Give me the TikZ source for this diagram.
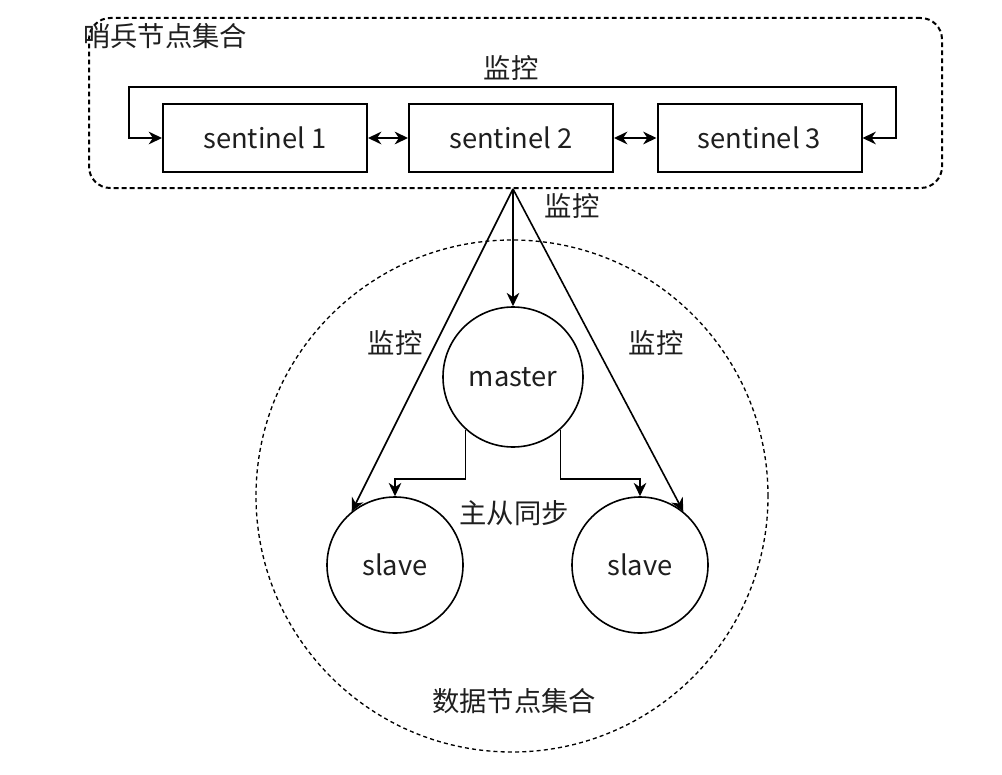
\documentclass[tikz,border=0pt]{standalone}
\usepackage{fontspec}
\setmainfont{Noto Sans CJK SC}
\usetikzlibrary{arrows.meta,calc}
\begin{document}
\begin{tikzpicture}[x=0.75pt,y=-0.75pt,
  every node/.style={font=\fontsize{20.5pt}{24pt}\selectfont, text=black!88},
  sbox/.style={draw, line width=1.5pt, minimum width=153pt, minimum height=51pt, inner sep=0pt},
  circ/.style={draw, circle, line width=1.2pt, inner sep=0pt},
  grpbox/.style={draw, dash pattern=on 3.6pt off 2.4pt, line width=1.5pt, rounded corners=16pt, inner sep=0pt},
  grpcirc/.style={draw, circle, dash pattern=on 3pt off 2.4pt, line width=1pt, inner sep=0pt},
  tip/.tip={Stealth[length=10pt,width=9.5pt,inset=3.2pt]},
  arr/.style={line width=1.2pt, -tip},
  dblarr/.style={line width=1.5pt, tip-tip},
  lbl/.style={inner sep=0pt}]
\useasboundingbox (0,0) rectangle (1002,774);
\fill[white] (0,0) rectangle (1002,774);

% sentinel group
\node[grpbox, minimum width=639.75pt, minimum height=127.5pt] (sgroup) at (515.5,103) {};
\node[lbl] (sglabel) at (165,36) {哨兵节点集合};

\node[sbox] (s1) at (265,138) {sentinel 1};
\node[sbox] (s2) at (511,138) {sentinel 2};
\node[sbox] (s3) at (759.5,138) {sentinel 3};

\draw[dblarr] (s1.east) -- (s2.west);
\draw[dblarr] (s2.east) -- (s3.west);

\coordinate (lc1) at (129,138);
\coordinate (lc2) at (129,87);
\coordinate (lc3) at (896,87);
\coordinate (lc4) at (896,138);
\draw[dblarr, line width=1.4pt] (s1.west) -- (lc1) -- (lc2) -- (lc3) -- (lc4) -- (s3.east);
\node[lbl] (toplbl) at (511,68) {监控};

% data group
\node[grpcirc, minimum size=384pt] (dgroup) at (512,496) {};
\node[circ, minimum size=105pt] (m) at (513,377) {master};
\node[circ, minimum size=102pt] (sl1) at (395,565) {slave};
\node[circ, minimum size=102pt] (sl2) at (640,565) {slave};

\coordinate (apex) at (513,189);
\draw[arr] (apex) -- (m.north);
\draw[arr] (apex) -- (sl1.129);
\draw[arr] (apex) -- (sl2.51);
\node[lbl] (mon1) at (572,206) {监控};
\node[lbl] (mon2) at (395,343) {监控};
\node[lbl] (mon3) at (656,343) {监控};

\draw[arr] (m.228) |- ($(sl1.north)+(0,-17)$) -- (sl1.north);
\draw[arr] (m.312) |- ($(sl2.north)+(0,-17)$) -- (sl2.north);
\node[lbl] (sync) at (514,513) {主从同步};
\node[lbl] (dglabel) at (514,701) {数据节点集合};
\end{tikzpicture}
\end{document}
